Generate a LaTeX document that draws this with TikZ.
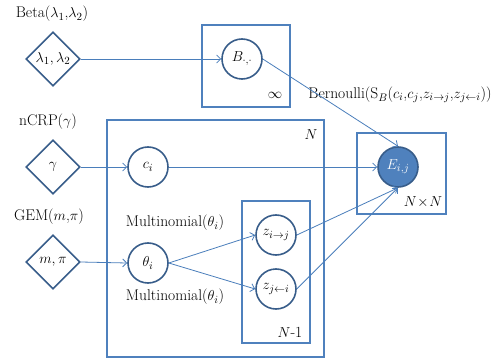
\documentclass[tikz,border=0pt]{standalone}
\usepackage{tikz}
\usetikzlibrary{positioning,calc,shapes.geometric,arrows.meta}
\definecolor{PlateLine}{HTML}{4F81BD}
\definecolor{NodeLine}{HTML}{385D8A}
\definecolor{EdgeLine}{HTML}{4A7EBB}
\definecolor{Observed}{HTML}{4F81BD}

\begin{document}
\begin{tikzpicture}[x=1pt,y=-1pt,
		font=\fontsize{15.5}{18}\selectfont,
		latent/.style={circle,draw=NodeLine,line width=1.6pt,minimum size=40pt,inner sep=0pt},
		observed/.style={latent,fill=Observed,text=white},
		hyper/.style={diamond,draw=NodeLine,line width=1.6pt,minimum width=54pt,minimum height=54pt,inner sep=0pt},
		plate/.style={draw=PlateLine,line width=1.6pt},
		edge/.style={draw=EdgeLine,line width=0.8pt,-{Straight Barb[length=4pt,width=8pt]}}
		]
	\useasboundingbox (0,0) rectangle (500,358);
	
	% plates
	\draw[plate] (202,25) rectangle (290,107);
	\draw[plate] (107,120) rectangle (324,357);
	\draw[plate] (242,201) rectangle (310,343);
	\draw[plate] (357,133) rectangle (446,214);
	
	% hyperparameters
	\node[hyper] (lam) at (53,59) {$\lambda_1,\lambda_2$};
	\node[hyper] (gam) at (53,167) {$\gamma$};
	\node[hyper] (mpi) at (53,262) {$m,\pi$};
	
	% variables
	\node[latent] (B) at (242,59) {$B_{\cdot,\cdot}$};
	\node[latent] (c) at (148,167) {$c_i$};
	\node[latent] (theta) at (148,263) {$\theta_i$};
	\node[latent] (zij) at (276,235) {$z_{i\rightarrow j}$};
	\node[latent] (zji) at (276,289) {$z_{j\leftarrow i}$};
	\node[observed] (E) at (398,167) {$E_{i,j}$};
	
	% distributions
	\node (betaL) at (52,14) {Beta($\lambda_1$,$\lambda_2$)};
	\node (ncrpL) at (48,122) {nCRP($\gamma$)};
	\node (gemL) at (49,217) {GEM($m$,$\pi$)};
	\node (multA) at (175,223) {Multinomial($\theta_i$)};
	\node (multB) at (175,297) {Multinomial($\theta_i$)};
	\node (bernL) at (400,95) {Bernoulli(S$_B$($c_i$,$c_j$,$z_{i\rightarrow j}$,$z_{j\leftarrow i}$))};
	
	% plate sizes
	\node (infL) at (275,95) {$\infty$};
	\node (nL) at (311,135) {$N$};
	\node (n1L) at (290,332) {$N$-1};
	\node (nnL) at (423,202) {$N\!\times\! N$};
	
	% edges
	\draw[edge] (lam.east) -- (B.west);
	\draw[edge] (gam.east) -- (c.west);
	\draw[edge] (c.east) -- (E.west);
	\draw[edge] (mpi.east) -- (theta.west);
	\draw[edge] (theta.east) -- (zij.west);
	\draw[edge] (theta.east) -- (zji.west);
	\draw[edge] (B.east) -- (E.north);
	\draw[edge] (zij.east) -- (E.south);
	\draw[edge] (zji.east) -- (E.south);
\end{tikzpicture}
\end{document}
